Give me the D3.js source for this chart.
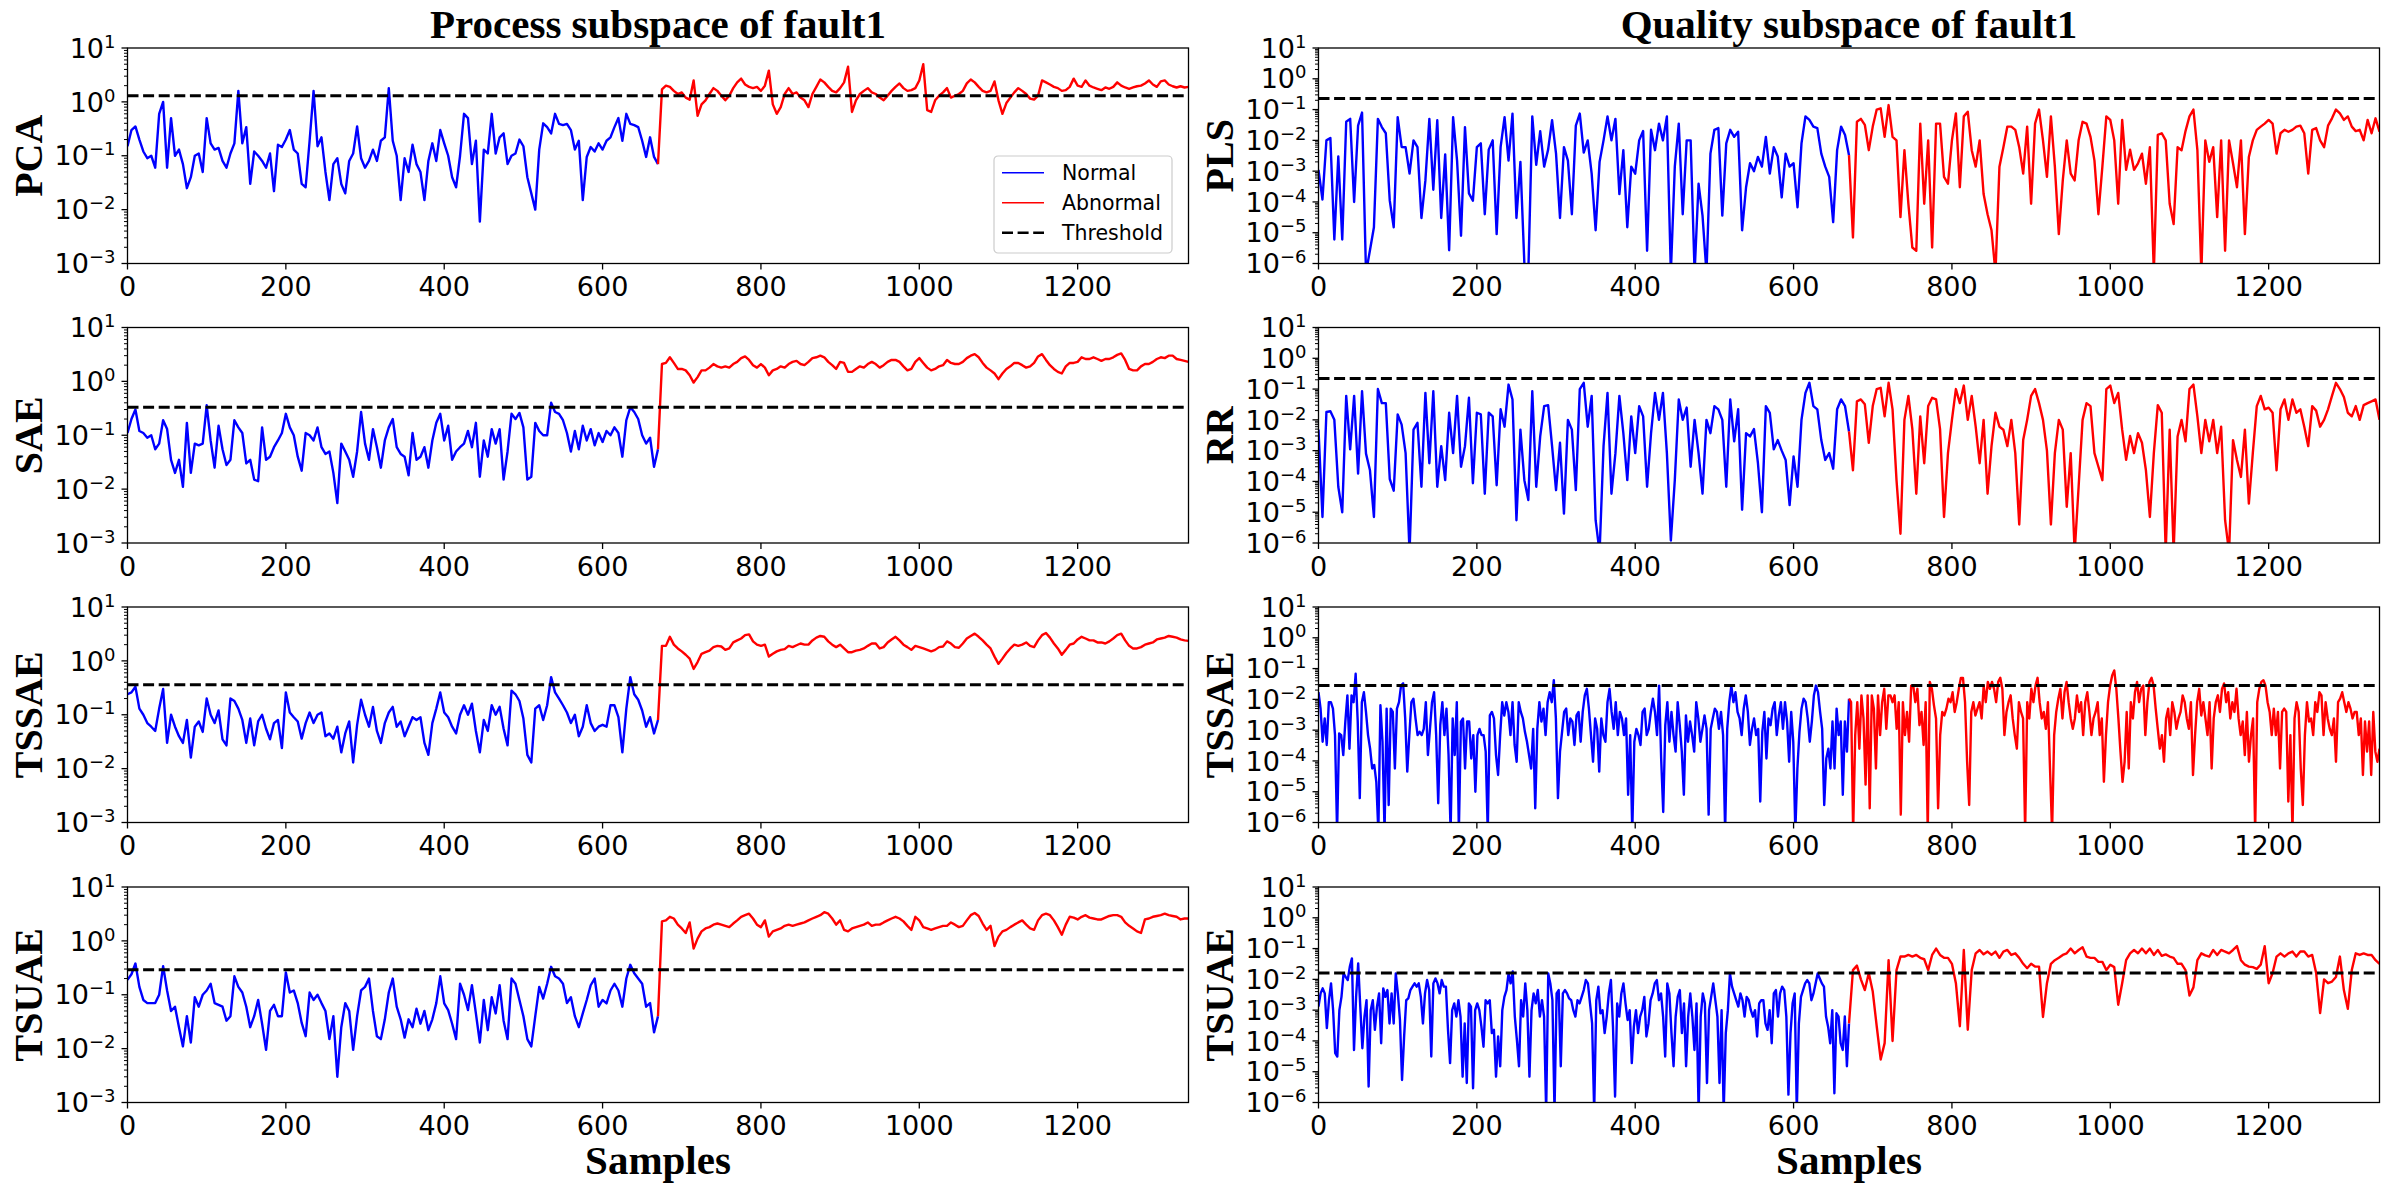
<!DOCTYPE html>
<html>
<head>
<meta charset="utf-8">
<script src="https://cdn.jsdelivr.net/npm/d3@7"></script>
<style>
  html, body { margin: 0; padding: 0; background: #ffffff; }
  svg { display: block; }
</style>
</head>
<body>
<div id="chart"></div>
<script>
// Normal readings cover samples 0..670, Abnormal readings 670..1340,
// each series read at evenly spaced samples over its span
const FAULT_START = 670;
const X_MAX = 1340;
const xTicks = [0, 200, 400, 600, 800, 1000, 1200];

// ---- process subspace ----
const pcaNormal = [
  0.15, 0.3, 0.35, 0.2, 0.12, 0.09, 0.1, 0.06, 0.6, 1.0,
  0.06, 0.5, 0.1, 0.13, 0.07, 0.025, 0.04, 0.1, 0.11, 0.05,
  0.5, 0.17, 0.13, 0.14, 0.08, 0.06, 0.11, 0.17, 1.6, 0.17,
  0.34, 0.03, 0.12, 0.1, 0.08, 0.06, 0.11, 0.022, 0.16, 0.145,
  0.2, 0.3, 0.13, 0.11, 0.03, 0.026, 0.19, 1.6, 0.15, 0.22,
  0.05, 0.015, 0.07, 0.09, 0.03, 0.02, 0.08, 0.11, 0.35, 0.09,
  0.06, 0.08, 0.13, 0.08, 0.19, 0.22, 1.8, 0.19, 0.1, 0.015,
  0.09, 0.05, 0.16, 0.07, 0.05, 0.015, 0.08, 0.17, 0.08, 0.3,
  0.17, 0.1, 0.04, 0.026, 0.1, 0.6, 0.5, 0.07, 0.19, 0.006,
  0.13, 0.11, 0.6, 0.11, 0.22, 0.26, 0.07, 0.1, 0.11, 0.2,
  0.15, 0.04, 0.02, 0.01, 0.13, 0.4, 0.34, 0.26, 0.6, 0.39,
  0.37, 0.39, 0.3, 0.13, 0.19, 0.015, 0.095, 0.145, 0.12, 0.17,
  0.13, 0.19, 0.22, 0.34, 0.5, 0.19, 0.6, 0.39, 0.37, 0.34,
  0.19, 0.095, 0.22, 0.095, 0.07
];
const pcaAbnormal = [
  0.07, 1.7, 2.0, 1.9, 1.6, 1.4, 1.5, 1.2, 1.1, 2.5,
  0.55, 0.9, 1.07, 1.4, 1.8, 1.6, 1.3, 1.07, 1.3, 1.8,
  2.3, 2.7, 2.1, 1.9, 1.8, 1.9, 1.6, 2.0, 3.8, 0.9,
  0.6, 0.8, 1.4, 1.8, 1.4, 1.5, 1.2, 1.07, 0.8, 1.4,
  1.9, 2.6, 2.3, 1.9, 1.6, 1.5, 1.8, 2.3, 4.5, 0.65,
  1.07, 1.4, 1.6, 1.8, 1.5, 1.4, 1.2, 1.07, 1.3, 1.6,
  1.9, 2.2, 1.8, 1.6, 1.65, 1.8, 2.5, 5.0, 0.7, 0.65,
  1.07, 1.3, 1.5, 1.8, 1.2, 1.3, 1.4, 1.6, 2.2, 2.6,
  2.3, 1.9, 1.6, 1.5, 1.6, 2.4, 1.07, 0.6, 0.95, 1.2,
  1.5, 1.8, 1.6, 1.4, 1.15, 1.1, 1.3, 2.5, 2.3, 2.1,
  1.9, 1.8, 1.6, 1.65, 1.9, 2.7, 2.0, 1.9, 2.5, 2.0,
  1.85, 1.75, 1.65, 1.85, 1.75, 1.9, 2.3, 2.0, 1.85, 1.75,
  1.85, 1.95, 2.0, 2.2, 2.5, 2.1, 1.9, 2.4, 2.5, 2.1,
  1.95, 1.85, 1.95, 1.85, 1.9
];
const saeNormal = [
  0.11, 0.2, 0.3, 0.12, 0.11, 0.09, 0.1, 0.055, 0.07, 0.19,
  0.13, 0.035, 0.02, 0.035, 0.011, 0.17, 0.02, 0.07, 0.065, 0.07,
  0.36, 0.08, 0.025, 0.15, 0.055, 0.028, 0.035, 0.19, 0.14, 0.11,
  0.03, 0.035, 0.015, 0.014, 0.14, 0.035, 0.04, 0.06, 0.08, 0.11,
  0.25, 0.14, 0.1, 0.04, 0.022, 0.11, 0.1, 0.08, 0.14, 0.06,
  0.045, 0.05, 0.02, 0.0055, 0.07, 0.05, 0.035, 0.017, 0.05, 0.27,
  0.07, 0.035, 0.13, 0.06, 0.025, 0.08, 0.14, 0.2, 0.06, 0.045,
  0.04, 0.018, 0.11, 0.035, 0.04, 0.06, 0.025, 0.08, 0.17, 0.25,
  0.08, 0.15, 0.035, 0.05, 0.06, 0.07, 0.12, 0.06, 0.17, 0.017,
  0.08, 0.04, 0.13, 0.07, 0.13, 0.015, 0.05, 0.25, 0.2, 0.26,
  0.14, 0.015, 0.017, 0.17, 0.12, 0.1, 0.1, 0.4, 0.27, 0.25,
  0.19, 0.11, 0.05, 0.12, 0.055, 0.15, 0.08, 0.13, 0.065, 0.11,
  0.075, 0.12, 0.1, 0.14, 0.11, 0.04, 0.19, 0.33, 0.27, 0.2,
  0.1, 0.07, 0.09, 0.026, 0.055
];
const saeAbnormal = [
  0.055, 2.1, 2.2, 2.8, 2.2, 1.7, 1.7, 1.6, 1.3, 0.95,
  1.2, 1.6, 1.6, 1.8, 2.1, 1.9, 1.8, 1.9, 1.8, 2.1,
  2.3, 2.7, 2.9, 2.5, 2.0, 1.8, 2.1, 1.8, 1.3, 1.6,
  1.7, 1.9, 1.8, 2.1, 2.3, 2.4, 2.1, 2.0, 2.3, 2.7,
  2.8, 3.0, 2.8, 2.3, 2.0, 1.7, 2.3, 2.2, 1.5, 1.5,
  1.7, 1.9, 1.8, 2.1, 2.3, 2.1, 1.8, 2.0, 2.3, 2.5,
  2.5, 2.3, 1.9, 1.6, 1.7, 2.3, 2.7, 2.2, 1.8, 1.6,
  1.7, 1.9, 2.0, 2.5, 2.2, 2.1, 2.1, 2.3, 2.7, 3.0,
  3.2, 2.8, 2.2, 1.8, 1.6, 1.4, 1.1, 1.4, 1.7, 1.9,
  2.2, 2.2, 2.0, 1.8, 1.9, 2.2, 2.9, 3.2, 2.5, 2.0,
  1.7, 1.5, 1.4, 1.9, 2.2, 2.2, 2.3, 2.8, 2.6, 2.6,
  2.8, 2.6, 2.4, 2.6, 2.6, 2.8, 3.1, 3.3, 2.5, 1.7,
  1.6, 1.6, 1.9, 2.1, 2.1, 2.3, 2.6, 2.8, 2.7, 3.0,
  3.0, 2.6, 2.5, 2.4, 2.3
];
const tssaeProcNormal = [
  0.24, 0.26, 0.33, 0.13, 0.1, 0.07, 0.06, 0.05, 0.13, 0.3,
  0.03, 0.1, 0.06, 0.04, 0.03, 0.08, 0.016, 0.06, 0.075, 0.048,
  0.2, 0.1, 0.07, 0.12, 0.035, 0.027, 0.2, 0.18, 0.13, 0.08,
  0.03, 0.085, 0.027, 0.075, 0.1, 0.055, 0.035, 0.07, 0.08, 0.024,
  0.26, 0.11, 0.09, 0.075, 0.036, 0.07, 0.11, 0.07, 0.1, 0.11,
  0.04, 0.045, 0.036, 0.06, 0.02, 0.045, 0.075, 0.013, 0.065, 0.19,
  0.1, 0.06, 0.14, 0.05, 0.03, 0.07, 0.11, 0.14, 0.06, 0.075,
  0.04, 0.06, 0.09, 0.08, 0.09, 0.03, 0.018, 0.07, 0.13, 0.26,
  0.11, 0.09, 0.06, 0.045, 0.1, 0.15, 0.1, 0.16, 0.05, 0.02,
  0.08, 0.05, 0.15, 0.1, 0.14, 0.055, 0.027, 0.28, 0.24, 0.18,
  0.085, 0.018, 0.013, 0.13, 0.15, 0.08, 0.15, 0.5, 0.26, 0.2,
  0.15, 0.11, 0.07, 0.1, 0.04, 0.06, 0.15, 0.07, 0.05, 0.06,
  0.065, 0.06, 0.15, 0.15, 0.09, 0.02, 0.13, 0.5, 0.24, 0.19,
  0.12, 0.06, 0.09, 0.045, 0.08
];
const tssaeProcAbnormal = [
  0.08, 1.9, 1.9, 2.8, 2.0, 1.7, 1.5, 1.3, 1.1, 0.71,
  0.95, 1.35, 1.45, 1.55, 1.8, 1.9, 1.85, 1.6, 1.7, 2.2,
  2.4, 2.6, 3.0, 3.1, 2.3, 2.0, 1.9, 2.0, 1.2, 1.35,
  1.5, 1.6, 1.65, 1.9, 1.8, 1.95, 2.1, 2.0, 2.0, 2.4,
  2.7, 2.9, 2.8, 2.3, 2.0, 1.8, 2.0, 1.7, 1.45, 1.45,
  1.55, 1.6, 1.7, 1.9, 2.1, 2.1, 1.7, 1.8, 2.2, 2.5,
  2.8, 2.4, 2.0, 1.8, 1.6, 1.9, 1.8, 1.7, 1.6, 1.5,
  1.6, 1.8, 1.85, 2.3, 2.1, 1.8, 1.75, 2.1, 2.6, 2.9,
  3.2, 2.8, 2.4, 2.0, 1.7, 1.2, 0.88, 1.1, 1.4, 1.7,
  2.0, 1.9, 2.0, 2.2, 1.9, 1.8, 2.4, 3.0, 3.3, 2.7,
  2.1, 1.7, 1.3, 1.6, 2.0, 2.1, 2.5, 2.8, 2.6, 2.4,
  2.4, 2.2, 2.2, 2.1, 2.3, 2.6, 3.0, 3.2, 2.4, 1.9,
  1.7, 1.7, 1.8, 2.0, 2.1, 2.2, 2.5, 2.6, 2.7, 2.9,
  2.8, 2.7, 2.5, 2.4, 2.35
];
const tsuaeProcNormal = [
  0.19, 0.24, 0.38, 0.14, 0.08, 0.07, 0.07, 0.07, 0.1, 0.34,
  0.12, 0.05, 0.06, 0.025, 0.011, 0.04, 0.013, 0.09, 0.06, 0.1,
  0.12, 0.16, 0.07, 0.065, 0.06, 0.033, 0.04, 0.22, 0.14, 0.11,
  0.06, 0.025, 0.04, 0.08, 0.029, 0.0095, 0.05, 0.065, 0.04, 0.04,
  0.26, 0.11, 0.12, 0.07, 0.03, 0.017, 0.11, 0.08, 0.1, 0.07,
  0.05, 0.015, 0.04, 0.003, 0.025, 0.07, 0.05, 0.0095, 0.04, 0.12,
  0.14, 0.2, 0.05, 0.017, 0.015, 0.035, 0.11, 0.2, 0.06, 0.035,
  0.016, 0.035, 0.025, 0.055, 0.029, 0.05, 0.022, 0.035, 0.07, 0.22,
  0.069, 0.052, 0.029, 0.015, 0.16, 0.1, 0.052, 0.15, 0.045, 0.013,
  0.08, 0.022, 0.09, 0.045, 0.15, 0.033, 0.015, 0.2, 0.16, 0.08,
  0.04, 0.015, 0.011, 0.04, 0.14, 0.085, 0.16, 0.33, 0.22, 0.2,
  0.16, 0.07, 0.09, 0.04, 0.025, 0.045, 0.08, 0.15, 0.2, 0.06,
  0.08, 0.069, 0.12, 0.16, 0.12, 0.06, 0.2, 0.36, 0.25, 0.2,
  0.16, 0.06, 0.07, 0.02, 0.04
];
const tsuaeProcAbnormal = [
  0.04, 2.3, 2.4, 2.8, 2.6, 2.0, 1.7, 1.4, 2.2, 0.72,
  1.1, 1.5, 1.7, 1.8, 2.0, 2.1, 2.0, 1.9, 1.8, 2.1,
  2.4, 2.8, 3.0, 3.2, 2.6, 2.0, 1.8, 2.4, 1.2, 1.5,
  1.6, 1.7, 1.9, 2.0, 1.9, 2.0, 2.1, 2.2, 2.4, 2.6,
  2.8, 3.0, 3.4, 3.2, 2.6, 2.0, 2.4, 1.6, 1.5, 1.7,
  1.8, 1.9, 2.0, 2.2, 1.9, 2.0, 2.0, 2.2, 2.4, 2.6,
  2.8, 2.6, 2.3, 1.9, 1.6, 2.8, 2.4, 1.8, 1.7, 1.6,
  1.7, 1.8, 1.9, 1.9, 2.2, 2.0, 1.8, 1.9, 2.4, 3.0,
  3.3, 2.9, 2.1, 1.6, 1.9, 0.8, 1.2, 1.5, 1.6, 1.8,
  2.0, 2.2, 2.4, 2.0, 1.7, 1.6, 2.4, 3.0, 3.2, 3.0,
  2.4, 1.8, 1.3, 2.0, 2.8, 2.7, 2.5, 2.8, 3.0, 2.7,
  2.6, 2.5, 2.5, 2.7, 2.9, 3.0, 3.0, 2.8, 2.2, 1.9,
  1.7, 1.5, 1.4, 2.5, 2.6, 2.8, 2.9, 3.0, 3.2, 3.0,
  2.9, 2.8, 2.5, 2.6, 2.6
];

// ---- quality subspace ----
const plsNormal = [
  1.1e-3, 1.2e-4, 0.01, 0.012, 6e-6, 3e-3, 6e-6, 0.04, 0.05, 1e-4,
  0.03, 0.08, 5e-7, 2.7e-6, 1.5e-5, 0.05, 0.027, 0.017, 1.1e-4, 1.5e-5,
  0.057, 6.1e-3, 6e-3, 8.3e-4, 0.01, 6e-3, 3e-5, 5e-4, 0.05, 2.5e-4,
  0.045, 3e-5, 3.5e-3, 2.7e-6, 0.057, 2.2e-3, 8e-6, 0.027, 1.9e-4, 1.1e-4,
  6e-3, 8e-3, 4e-5, 5e-3, 0.01, 9e-6, 6e-3, 0.057, 2.2e-3, 0.074,
  3e-5, 2e-3, 1e-6, 5e-7, 0.06, 1.6e-3, 0.02, 1.4e-3, 5e-3, 0.045,
  3.7e-3, 3e-5, 6e-3, 2.2e-3, 4e-5, 0.03, 0.074, 4e-3, 0.01, 8.3e-4,
  1.2e-5, 2e-3, 0.01, 0.06, 0.01, 0.05, 1.8e-4, 4.8e-3, 1.5e-5, 1.4e-3,
  8.3e-4, 0.01, 0.02, 2.6e-6, 0.022, 4.8e-3, 0.035, 0.01, 0.06, 5e-7,
  1.4e-3, 0.035, 4e-5, 0.01, 0.01, 5e-7, 3.9e-4, 3.6e-5, 5e-7, 3.7e-3,
  0.022, 0.025, 3.6e-5, 8e-3, 0.022, 0.013, 0.019, 1.2e-5, 3e-4, 1.8e-3,
  1e-3, 2.9e-3, 1.4e-3, 0.013, 8.3e-4, 6e-3, 3e-3, 1.4e-4, 3.7e-3, 1.4e-3,
  1.8e-3, 6.7e-5, 8e-3, 0.06, 0.046, 0.028, 0.025, 3.7e-3, 1.4e-3, 6.5e-4,
  2.2e-5, 4.8e-3, 0.028, 0.015, 3.3e-3
];
const plsAbnormal = [
  3.3e-3, 7e-6, 0.04, 0.05, 0.032, 4.8e-3, 0.028, 0.1, 0.11, 0.013,
  0.14, 0.013, 0.01, 3.2e-5, 4.8e-3, 8.7e-5, 3.3e-6, 2.6e-6, 0.035, 8.7e-5,
  0.01, 3.3e-6, 0.035, 0.035, 6.5e-4, 3.9e-4, 0.01, 0.075, 3e-4, 0.06,
  0.085, 4.8e-3, 1.4e-3, 0.01, 1.8e-4, 4e-5, 1.2e-5, 5e-7, 1.4e-3, 6e-3,
  0.028, 0.028, 0.022, 6e-3, 8.3e-4, 0.028, 8.7e-5, 0.035, 0.1, 0.01,
  6.5e-4, 0.06, 1.4e-3, 9e-6, 5e-4, 0.01, 8.3e-4, 5e-4, 0.01, 0.04,
  0.035, 0.013, 2.2e-3, 4e-5, 1.4e-3, 0.06, 0.046, 0.01, 8.7e-5, 0.046,
  1.1e-3, 5e-3, 1.1e-3, 1.8e-3, 3.7e-3, 3.9e-4, 6e-3, 5e-7, 0.015, 0.017,
  0.01, 8.7e-5, 1.9e-5, 6e-3, 4.8e-3, 0.02, 0.06, 0.1, 4.8e-3, 5e-7,
  0.01, 2e-3, 6e-3, 3.2e-5, 0.01, 2.6e-6, 0.01, 1.8e-3, 3e-4, 0.01,
  9e-6, 2.9e-3, 0.01, 0.022, 0.028, 0.035, 0.046, 0.035, 3.7e-3, 0.017,
  0.022, 0.019, 0.022, 0.028, 0.03, 0.017, 8.3e-4, 0.022, 0.025, 0.01,
  6e-3, 0.03, 0.052, 0.1, 0.075, 0.046, 0.06, 0.028, 0.02, 0.022,
  0.01, 0.046, 0.017, 0.052, 0.019
];
const rrNormal = [
  4.8e-3, 7e-6, 0.018, 0.019, 0.01, 6.7e-5, 1e-5, 0.06, 1.1e-3, 0.06,
  1.8e-4, 0.085, 8e-4, 2.3e-4, 7e-6, 0.1, 0.035, 0.035, 1.2e-4, 5e-5,
  0.015, 7e-3, 8.3e-4, 5e-7, 4.8e-3, 8e-3, 6.7e-5, 0.075, 3.9e-4, 0.085,
  6.7e-5, 1.4e-3, 1.1e-4, 0.017, 8.3e-4, 0.06, 3e-4, 1.4e-3, 0.052, 8.7e-5,
  0.017, 0.015, 4e-5, 0.017, 0.013, 7.5e-5, 0.022, 6e-3, 0.14, 0.046,
  5.5e-6, 4.8e-3, 1.1e-4, 2.5e-5, 0.085, 6.7e-5, 2.9e-3, 0.028, 0.03, 1.4e-3,
  5.2e-5, 1.8e-3, 9e-6, 0.01, 4.8e-3, 5.2e-5, 0.1, 0.16, 6e-3, 0.06,
  5.5e-6, 5e-7, 1.4e-3, 0.075, 4e-5, 8.3e-4, 0.06, 3.7e-3, 1.1e-4, 0.013,
  8.3e-4, 0.028, 0.013, 6.7e-5, 3.7e-3, 0.075, 0.01, 0.075, 8.3e-4, 1.2e-6,
  1.1e-4, 0.046, 0.01, 0.025, 3e-4, 0.01, 8.3e-4, 4e-5, 0.01, 3.7e-3,
  0.028, 0.022, 0.01, 6.7e-5, 0.046, 2e-3, 0.022, 1.2e-5, 3.7e-3, 2.9e-3,
  5e-3, 3.9e-4, 1e-5, 0.028, 0.017, 1.1e-3, 2.2e-3, 1e-3, 5e-4, 1.7e-5,
  6.5e-4, 6.7e-5, 0.01, 0.075, 0.16, 0.028, 0.022, 2.2e-3, 5e-4, 8.3e-4,
  2.6e-4, 0.022, 0.046, 0.028, 4.2e-3
];
const rrAbnormal = [
  4.2e-3, 2.3e-4, 0.04, 0.046, 0.032, 1.8e-3, 0.028, 0.1, 0.11, 0.013,
  0.16, 0.022, 1.1e-4, 2e-6, 0.01, 0.06, 5e-3, 4e-5, 0.013, 3.9e-4,
  0.028, 0.052, 0.046, 5e-3, 7e-6, 8.3e-4, 0.01, 0.1, 0.035, 0.13,
  0.01, 0.06, 6e-3, 3.9e-4, 0.01, 4e-5, 1.4e-3, 0.017, 6e-3, 4.8e-3,
  1.4e-3, 0.01, 8.3e-4, 4e-6, 2.2e-3, 0.01, 0.06, 0.1, 0.035, 0.01,
  1e-3, 4e-6, 8.3e-4, 0.01, 4.8e-3, 1.5e-5, 8.3e-4, 5e-7, 6.7e-5, 0.01,
  0.035, 0.028, 8.3e-4, 3e-4, 1.1e-4, 0.1, 0.13, 0.035, 0.075, 4.8e-3,
  5e-4, 3e-3, 8.3e-4, 3.7e-3, 1.8e-3, 2.3e-4, 7e-6, 8.3e-4, 0.03, 0.017,
  5e-7, 4.8e-3, 5e-7, 2.9e-3, 0.01, 2e-3, 0.1, 0.14, 0.013, 8.3e-4,
  0.01, 2e-3, 0.01, 8.3e-4, 6e-3, 5.5e-6, 5e-7, 2.2e-3, 5e-4, 1.4e-4,
  4.8e-3, 1.9e-5, 8.3e-4, 0.028, 0.06, 0.022, 0.025, 0.017, 2.3e-4, 0.022,
  0.046, 0.01, 0.046, 0.017, 0.022, 6e-3, 1.4e-3, 0.028, 0.02, 6e-3,
  0.01, 0.022, 0.06, 0.16, 0.1, 0.055, 0.017, 0.013, 0.028, 0.01,
  0.03, 0.035, 0.04, 0.046, 0.01
];
const tssaeQualNormal = [
  0.017, 5e-3, 4.2e-4, 2.4e-3, 3.3e-4, 8.1e-3, 8.1e-3, 5e-3, 6.9e-4, 5e-7,
  7.8e-4, 6.9e-4, 1.55e-4, 1.9e-3, 0.0135, 2.5e-4, 0.0135, 8.1e-3, 0.068, 1.9e-3,
  6.2e-6, 8.1e-3, 0.017, 3.9e-3, 6.9e-4, 2.5e-4, 5.7e-5, 7.4e-5, 2.1e-5, 5e-7,
  6.4e-3, 4.2e-4, 5e-7, 5e-3, 3.7e-6, 5e-3, 3.9e-3, 5.7e-5, 5e-3, 8.1e-3,
  0.028, 0.033, 2.4e-3, 4.5e-5, 6.9e-4, 8.1e-3, 0.0105, 2.4e-3, 6.9e-4, 8.8e-4,
  6.9e-4, 1.1e-3, 8.1e-3, 1.55e-4, 1.1e-3, 8.1e-3, 0.017, 6.9e-4, 4.2e-6, 1.45e-3,
  8.1e-3, 6.9e-4, 5e-3, 1.55e-4, 5e-7, 2.4e-3, 1.55e-4, 8.1e-3, 5e-7, 1.9e-3,
  2.4e-3, 5.7e-5, 1.9e-3, 1.9e-3, 1.2e-4, 6.9e-4, 1e-5, 6.9e-4, 1.1e-3, 6.9e-4,
  6.9e-4, 2e-4, 5e-7, 3e-3, 3.9e-3, 2.4e-3, 1.55e-4, 3.5e-5, 6.9e-4, 8.1e-3,
  3e-3, 8.1e-3, 3.9e-3, 6.9e-4, 8.1e-3, 3.3e-4, 9.4e-5, 8.1e-3, 3.9e-3, 2.4e-3,
  8.8e-4, 4.2e-4, 1.55e-4, 5.7e-5, 1.1e-3, 2.9e-6, 1.1e-3, 8.1e-3, 1.9e-3, 5e-3,
  6.9e-4, 8.1e-3, 0.017, 8.1e-3, 0.042, 2.4e-3, 6.2e-6, 2e-4, 8.8e-4, 3.9e-3,
  5e-3, 6.9e-4, 2.4e-3, 1.9e-3, 3.3e-4, 3e-3, 3.9e-3, 4.2e-4, 3.9e-3, 0.0135,
  0.022, 5e-3, 6.9e-4, 9.4e-5, 2.4e-3, 1.1e-3, 4.5e-5, 2.4e-3, 6.9e-4, 4.2e-4,
  8.1e-3, 0.022, 3.9e-3, 1.1e-3, 8.1e-3, 6.9e-4, 3.9e-3, 2.4e-3, 6.9e-4, 2.4e-3,
  8e-6, 6.9e-4, 5e-7, 4.2e-4, 1.1e-3, 6.9e-4, 3.3e-4, 3.9e-3, 5e-3, 6.9e-4,
  1.1e-3, 3.9e-3, 0.0105, 3.9e-3, 6.9e-4, 0.028, 1.2e-4, 2.2e-6, 1.45e-3, 8.1e-3,
  4.2e-4, 3.9e-3, 6.9e-4, 2e-4, 8.1e-3, 1.45e-3, 2e-4, 8e-6, 3e-3, 4.2e-4,
  1.9e-3, 6.9e-4, 2e-4, 8.1e-3, 2.4e-3, 4.2e-4, 1.1e-3, 3e-3, 1.1e-3, 1.8e-6,
  1.1e-3, 2.4e-3, 5e-3, 3.9e-3, 1.1e-3, 3.9e-3, 6.9e-4, 5e-7, 1.1e-3, 8.1e-3,
  0.028, 8.1e-3, 0.017, 3.9e-3, 2.4e-3, 6.9e-4, 5e-3, 0.0135, 3.9e-3, 3.3e-4,
  1.1e-3, 2.4e-3, 6.9e-4, 1.1e-3, 4.8e-6, 8.8e-4, 3.9e-3, 1.2e-4, 2.4e-3, 1.45e-3,
  5e-3, 8.1e-3, 6.9e-4, 3e-3, 8.1e-3, 1.1e-3, 8.1e-3, 1.9e-3, 9.4e-5, 3.9e-3,
  4.2e-4, 5e-7, 5.7e-5, 8.8e-4, 5e-3, 0.0105, 8.1e-3, 2.4e-3, 4.2e-4, 1.9e-3,
  0.0135, 0.028, 0.017, 3.9e-3, 1.1e-3, 3.7e-6, 1.2e-4, 2.5e-4, 5.7e-5, 1.9e-3,
  5.7e-5, 5e-3, 6.9e-4, 1.9e-3, 8e-6, 1.9e-3, 2e-4, 0.0105
];
const tssaeQualAbnormal = [
  0.0105, 8.1e-3, 5e-7, 6.9e-4, 8.1e-3, 2.5e-4, 0.0135, 2.4e-3, 1.7e-5, 0.0135,
  2.9e-6, 0.0135, 5e-3, 5.7e-5, 0.0135, 6.9e-4, 8.1e-3, 0.022, 1.1e-3, 0.0135,
  0.0135, 8.1e-3, 0.0135, 1.1e-3, 8.1e-3, 1.8e-6, 8.1e-3, 6.9e-4, 3.9e-3, 4.2e-4,
  0.028, 0.028, 8.1e-3, 0.022, 1.45e-3, 3.9e-3, 3.3e-4, 8.1e-3, 5e-7, 0.037,
  0.022, 6.4e-3, 2.4e-3, 2.9e-6, 6.9e-4, 3.9e-3, 3e-3, 5e-3, 0.0105, 8.1e-3,
  0.017, 3.9e-3, 8.1e-3, 0.022, 0.05, 0.05, 8.1e-3, 9.4e-5, 3.7e-6, 3.9e-3,
  8.1e-3, 3e-3, 5e-3, 8.1e-3, 2.4e-3, 0.028, 8.1e-3, 0.037, 0.022, 0.037,
  0.022, 8.1e-3, 0.037, 0.05, 0.022, 6.9e-4, 3.9e-3, 8.1e-3, 0.0135, 2.4e-3,
  6.9e-4, 2.5e-4, 8.1e-3, 3.9e-3, 2.4e-3, 5e-7, 8.1e-3, 2.4e-3, 0.022, 8.1e-3,
  0.028, 0.05, 8.1e-3, 2.4e-3, 3.9e-3, 1.1e-3, 8.1e-3, 5.7e-5, 5e-7, 6.9e-4,
  3.9e-3, 0.0105, 0.022, 2.4e-3, 0.017, 0.037, 8.1e-3, 2.4e-3, 1.1e-3, 2.4e-3,
  0.0135, 3.9e-3, 8.1e-3, 6.9e-4, 8.1e-3, 0.017, 3.9e-3, 6.9e-4, 2.4e-3, 3.9e-3,
  8.1e-3, 6.9e-4, 2.4e-3, 2.1e-5, 6.9e-4, 8.1e-3, 0.028, 0.06, 0.087, 0.022,
  2.4e-3, 2e-4, 2.1e-5, 9.4e-5, 3.9e-3, 5.7e-5, 8.1e-3, 2.4e-3, 0.017, 0.037,
  8.1e-3, 0.022, 0.028, 6.9e-4, 8.1e-3, 0.037, 0.05, 0.028, 5e-3, 1.1e-3,
  2.5e-4, 6.9e-4, 9.4e-5, 2.4e-3, 5e-3, 6.9e-4, 8.1e-3, 3.9e-3, 1.1e-3, 2.4e-3,
  3.9e-3, 0.0135, 8.1e-3, 2.4e-3, 1.1e-3, 8.1e-3, 3.5e-5, 6.9e-4, 8.1e-3, 0.022,
  3e-3, 8.1e-3, 2.4e-3, 6.9e-4, 8.1e-3, 5.7e-5, 2.4e-3, 8.1e-3, 0.0135, 3.9e-3,
  0.022, 0.033, 8.1e-3, 0.017, 2.4e-3, 8.1e-3, 3.9e-3, 0.022, 2.4e-3, 6.9e-4,
  1.9e-3, 1.55e-4, 3.9e-3, 9.4e-5, 6.9e-4, 2.4e-3, 5e-7, 8.1e-3, 0.022, 0.037,
  0.042, 0.028, 8.1e-3, 3.9e-3, 6.9e-4, 5e-3, 6.9e-4, 3.9e-3, 5.7e-5, 3.9e-3,
  5e-3, 3.9e-3, 4.8e-6, 6.9e-4, 5e-7, 2.4e-3, 8.1e-3, 3.9e-3, 5.7e-5, 3.7e-6,
  6.9e-4, 8.1e-3, 1.9e-3, 2.4e-3, 6.9e-4, 8.1e-3, 3.9e-3, 0.017, 0.0135, 6.9e-4,
  8.1e-3, 2.4e-3, 1.1e-3, 6.9e-4, 2.4e-3, 9.4e-5, 8.1e-3, 0.0105, 0.017, 8.1e-3,
  3.9e-3, 8.1e-3, 5e-3, 2.4e-3, 3.9e-3, 3.9e-3, 6.9e-4, 2.4e-3, 3.5e-5, 1.9e-3,
  2e-4, 1.9e-3, 3.5e-5, 3.9e-3, 2e-4, 9.4e-5, 2.5e-4
];
const tsuaeQualNormal = [
  1.3e-3, 3.5e-3, 5.1e-3, 3.5e-3, 2.6e-4, 2.1e-3, 7.4e-3, 1e-3, 4e-5, 3.1e-5,
  1e-3, 2.7e-3, 0.0156, 0.012, 9.5e-3, 0.026, 0.048, 5.1e-5, 2.7e-3, 0.033,
  1.3e-3, 5.8e-5, 6.2e-4, 2.1e-3, 3.3e-6, 1e-3, 2.1e-3, 2.3e-4, 1.3e-3, 3.5e-3,
  8.4e-5, 5.1e-3, 2.7e-3, 4.5e-3, 3.7e-4, 3.5e-3, 3.7e-4, 0.0156, 3.5e-3, 4.8e-4,
  5.4e-6, 1.4e-4, 2.1e-3, 2.4e-3, 4.5e-3, 5.8e-3, 7.4e-3, 5.8e-3, 7.4e-3, 2.7e-3,
  3.7e-4, 3.5e-3, 9.5e-3, 4.5e-3, 3.1e-5, 7.4e-3, 0.0107, 7.4e-3, 3.5e-3, 9.5e-3,
  5.8e-3, 5.8e-3, 2.3e-4, 1.9e-5, 1e-3, 1.66e-3, 6.2e-4, 2.1e-3, 6.2e-4, 6.9e-6,
  3.7e-4, 4.3e-6, 1.66e-3, 1.3e-3, 2.9e-6, 1e-3, 1.66e-3, 1e-3, 2.9e-4, 6.5e-5,
  2.1e-3, 1.66e-3, 2.1e-3, 1.8e-4, 2.3e-4, 6.9e-6, 1.4e-4, 1.5e-5, 1e-3, 2.7e-3,
  4.5e-3, 0.0156, 7.4e-3, 0.018, 6.2e-4, 1.07e-4, 1.5e-5, 2.1e-3, 6.2e-4, 7.4e-3,
  1e-3, 6.9e-6, 1e-3, 3.5e-3, 1.66e-3, 4.5e-3, 6.2e-4, 2.1e-3, 6.2e-4, 5e-7,
  0.0156, 7.4e-3, 2.1e-3, 5e-7, 3.5e-3, 4.5e-3, 1.5e-5, 3.5e-3, 4.5e-3, 3.5e-3,
  2.4e-3, 2.1e-3, 1e-3, 6.2e-4, 2.1e-3, 1.66e-3, 2.7e-3, 4.5e-3, 9.5e-3, 7.4e-3,
  1.66e-3, 3.7e-4, 5e-7, 2.1e-3, 5.8e-3, 7.9e-4, 1e-3, 1.8e-4, 6.2e-4, 3.5e-3,
  9.5e-3, 2.9e-4, 1.55e-6, 1.66e-3, 6.2e-4, 3.5e-3, 7.4e-3, 1.66e-3, 4.8e-4, 1e-3,
  1.9e-5, 2.9e-4, 1e-3, 1.8e-4, 6.2e-4, 1e-3, 2.7e-3, 1.4e-4, 3.7e-4, 2.1e-3,
  3.5e-3, 7.4e-3, 9.5e-3, 2.1e-3, 3.5e-3, 6.2e-4, 3.1e-5, 7.4e-3, 3.5e-3, 1.8e-4,
  1.5e-5, 6.2e-4, 2.7e-3, 4.5e-3, 1.8e-4, 1.66e-3, 1.5e-5, 6.2e-4, 3.5e-3, 6.2e-4,
  5.1e-5, 1.66e-3, 5e-7, 6.2e-4, 3.5e-3, 1.66e-3, 4.3e-6, 1e-3, 2.7e-3, 7.4e-3,
  2.1e-3, 6.2e-4, 4.3e-6, 1e-3, 5e-7, 1.8e-4, 1e-3, 0.0156, 5.8e-3, 3.5e-3,
  2.1e-3, 1.3e-3, 3.5e-3, 2.1e-3, 6.2e-4, 2.7e-3, 2.1e-3, 1e-3, 6.2e-4, 1e-3,
  1.4e-4, 1.66e-3, 2.1e-3, 2.1e-3, 3.7e-4, 2.3e-4, 1e-3, 8.4e-5, 3.5e-3, 4.5e-3,
  6.2e-4, 3.5e-3, 5.8e-3, 4.5e-3, 6.2e-4, 1.8e-6, 1.8e-4, 1.66e-3, 3.5e-3, 5e-7,
  3.7e-4, 2.7e-3, 4.5e-3, 7.4e-3, 9.5e-3, 7.4e-3, 2.1e-3, 3.5e-3, 7.4e-3, 0.0156,
  0.0107, 7.4e-3, 5.8e-3, 6.2e-4, 2.9e-4, 8.4e-5, 1e-3, 2e-6, 7.9e-4, 6.2e-4,
  8.4e-5, 5.1e-5, 6.2e-4, 1.5e-5, 3.7e-4
];
const tsuaeQualAbnormal = [
  3.7e-4, 0.02, 0.028, 0.01, 4.5e-3, 0.016, 4e-3, 3e-4, 2.5e-5, 8.5e-5,
  0.042, 1e-4, 0.02, 0.055, 0.055, 0.062, 0.055, 0.062, 0.05, 0.045,
  0.02, 0.062, 0.1, 0.062, 0.05, 0.05, 0.032, 7.5e-3, 3e-4, 0.09,
  2.3e-4, 0.02, 0.07, 0.09, 0.065, 0.08, 0.062, 0.08, 0.05, 0.08,
  0.09, 0.062, 0.07, 0.05, 0.032, 0.023, 0.032, 0.026, 0.026, 6e-4,
  7.5e-3, 0.032, 0.042, 0.05, 0.062, 0.07, 0.1, 0.07, 0.09, 0.11,
  0.055, 0.05, 0.05, 0.037, 0.037, 0.02, 0.03, 0.025, 1.5e-3, 7.5e-3,
  0.042, 0.07, 0.09, 0.07, 0.1, 0.07, 0.1, 0.062, 0.09, 0.058,
  0.065, 0.055, 0.05, 0.032, 0.032, 0.02, 3e-3, 5.5e-3, 0.042, 0.07,
  0.06, 0.055, 0.09, 0.062, 0.09, 0.08, 0.07, 0.09, 0.12, 0.042,
  0.03, 0.026, 0.025, 0.022, 0.03, 0.12, 7.5e-3, 0.016, 0.055, 0.07,
  0.055, 0.07, 0.08, 0.055, 0.08, 0.08, 0.055, 0.062, 0.016, 8e-4,
  0.01, 7.5e-3, 8.5e-3, 0.012, 0.055, 4.5e-3, 1.1e-3, 0.02, 0.07, 0.062,
  0.07, 0.062, 0.062, 0.042, 0.032
];

const processLabels = ['PCA', 'SAE', 'TSSAE', 'TSUAE'];
const qualityLabels = ['PLS', 'RR', 'TSSAE', 'TSUAE'];
const processThresholds = [1.3, 0.33, 0.36, 0.29];
const qualityThresholds = [0.23, 0.22, 0.028, 0.016];
const processNormal = [pcaNormal, saeNormal, tssaeProcNormal, tsuaeProcNormal];
const processAbnormal = [pcaAbnormal, saeAbnormal, tssaeProcAbnormal, tsuaeProcAbnormal];
const qualityNormal = [plsNormal, rrNormal, tssaeQualNormal, tsuaeQualNormal];
const qualityAbnormal = [plsAbnormal, rrAbnormal, tssaeQualAbnormal, tsuaeQualAbnormal];
const columnTitles = ['Process subspace of fault1', 'Quality subspace of fault1'];
const legendLabels = ['Normal', 'Abnormal', 'Threshold'];

// ---- layout ----
const W = 2388, H = 1194;
const colLeft = [127.5, 1318.5];
const plotW = 1061;
const rowTop = [48, 327.5, 607, 887];
const plotH = 215.5;
const SERIF = '"Liberation Serif", "Times New Roman", Times, serif';
const SANS = '"DejaVu Sans", "Bitstream Vera Sans", sans-serif';
const TICK_FS = 27;

const svg = d3.select('#chart').append('svg')
  .attr('width', W).attr('height', H)
  .attr('viewBox', `0 0 ${W} ${H}`)
  .style('background', '#ffffff');

const defs = svg.append('defs');
let clipId = 0;

// spread readings evenly over [start, start + span]
function toPoints(values, start, span) {
  const step = span / (values.length - 1);
  return values.map((v, i) => [start + i * step, v]);
}

function drawPanel(x0, y0, yDomain, normal, abnormal, threshold, label) {
  const x = d3.scaleLinear().domain([0, X_MAX]).range([x0, x0 + plotW]);
  const y = d3.scaleLog().domain(yDomain).range([y0 + plotH, y0]);

  const id = 'clip' + (clipId++);
  defs.append('clipPath').attr('id', id)
    .append('rect').attr('x', x0).attr('y', y0).attr('width', plotW).attr('height', plotH);

  const g = svg.append('g');
  const plot = g.append('g').attr('clip-path', `url(#${id})`);

  const line = d3.line().x(d => x(d[0])).y(d => y(d[1]));

  plot.append('path').datum(toPoints(normal, 0, FAULT_START))
    .attr('d', line).attr('fill', 'none')
    .attr('stroke', '#0000ff').attr('stroke-width', 2.4)
    .attr('stroke-linejoin', 'round');
  plot.append('path').datum(toPoints(abnormal, FAULT_START, X_MAX - FAULT_START))
    .attr('d', line).attr('fill', 'none')
    .attr('stroke', '#ff0000').attr('stroke-width', 2.4)
    .attr('stroke-linejoin', 'round');
  plot.append('line')
    .attr('x1', x(0)).attr('x2', x(X_MAX))
    .attr('y1', y(threshold)).attr('y2', y(threshold))
    .attr('stroke', '#000').attr('stroke-width', 3)
    .attr('stroke-dasharray', '11,4.6');

  // frame
  g.append('rect').attr('x', x0).attr('y', y0).attr('width', plotW).attr('height', plotH)
    .attr('fill', 'none').attr('stroke', '#000').attr('stroke-width', 1.3);

  // x ticks
  xTicks.forEach(t => {
    g.append('line').attr('x1', x(t)).attr('x2', x(t))
      .attr('y1', y0 + plotH).attr('y2', y0 + plotH + 6)
      .attr('stroke', '#000').attr('stroke-width', 1.3);
    g.append('text').attr('x', x(t)).attr('y', y0 + plotH + 32.5)
      .attr('text-anchor', 'middle')
      .attr('font-family', SANS).attr('font-size', TICK_FS)
      .text(t);
  });

  // y ticks (log decades + minor)
  const lo = Math.round(Math.log10(yDomain[0]));
  const hi = Math.round(Math.log10(yDomain[1]));
  for (let e = lo; e <= hi; e++) {
    const yy = y(Math.pow(10, e));
    g.append('line').attr('x1', x0 - 6).attr('x2', x0)
      .attr('y1', yy).attr('y2', yy)
      .attr('stroke', '#000').attr('stroke-width', 1.3);
    const txt = g.append('text').attr('x', x0 - 12).attr('y', yy + 9.7)
      .attr('text-anchor', 'end')
      .attr('font-family', SANS).attr('font-size', TICK_FS);
    txt.append('tspan').text('10');
    txt.append('tspan').attr('dy', -10).attr('font-size', 18)
      .text(e < 0 ? '\u2212' + (-e) : String(e));
    if (e < hi) {
      for (let k = 2; k <= 9; k++) {
        const ym = y(k * Math.pow(10, e));
        g.append('line').attr('x1', x0 - 3.5).attr('x2', x0)
          .attr('y1', ym).attr('y2', ym)
          .attr('stroke', '#000').attr('stroke-width', 1);
      }
    }
  }

  // y label
  const cy = y0 + plotH / 2;
  g.append('text')
    .attr('transform', `translate(${x0 - 86},${cy}) rotate(-90)`)
    .attr('text-anchor', 'middle')
    .attr('font-family', SERIF).attr('font-weight', 'bold').attr('font-size', 40)
    .text(label);
}

for (let r = 0; r < 4; r++) {
  drawPanel(colLeft[0], rowTop[r], [1e-3, 10], processNormal[r], processAbnormal[r],
    processThresholds[r], processLabels[r]);
  drawPanel(colLeft[1], rowTop[r], [1e-6, 10], qualityNormal[r], qualityAbnormal[r],
    qualityThresholds[r], qualityLabels[r]);
}

// column titles and x labels
colLeft.forEach((cx, i) => {
  svg.append('text').attr('x', cx + plotW / 2).attr('y', 38)
    .attr('text-anchor', 'middle')
    .attr('font-family', SERIF).attr('font-weight', 'bold').attr('font-size', 41)
    .text(columnTitles[i]);
  svg.append('text').attr('x', cx + plotW / 2).attr('y', 1174)
    .attr('text-anchor', 'middle')
    .attr('font-family', SERIF).attr('font-weight', 'bold').attr('font-size', 41)
    .text('Samples');
});

// legend (first panel)
const lg = svg.append('g').attr('transform', 'translate(994,156)');
lg.append('rect').attr('width', 178).attr('height', 97).attr('rx', 4)
  .attr('fill', '#ffffff').attr('fill-opacity', 0.8)
  .attr('stroke', '#cccccc').attr('stroke-width', 1.2);
const legendStyles = [
  { color: '#0000ff', width: 1.5, dash: null },
  { color: '#ff0000', width: 1.5, dash: null },
  { color: '#000000', width: 2.6, dash: '11,4.6' }
];
legendLabels.forEach((name, i) => {
  const ly = 16.7 + i * 30;
  const s = legendStyles[i];
  const ln = lg.append('line').attr('x1', 8).attr('x2', 50)
    .attr('y1', ly).attr('y2', ly)
    .attr('stroke', s.color).attr('stroke-width', s.width);
  if (s.dash) ln.attr('stroke-dasharray', s.dash);
  lg.append('text').attr('x', 68).attr('y', ly + 7.3)
    .attr('font-family', SANS).attr('font-size', 20.5)
    .text(name);
});
</script>
</body>
</html>
